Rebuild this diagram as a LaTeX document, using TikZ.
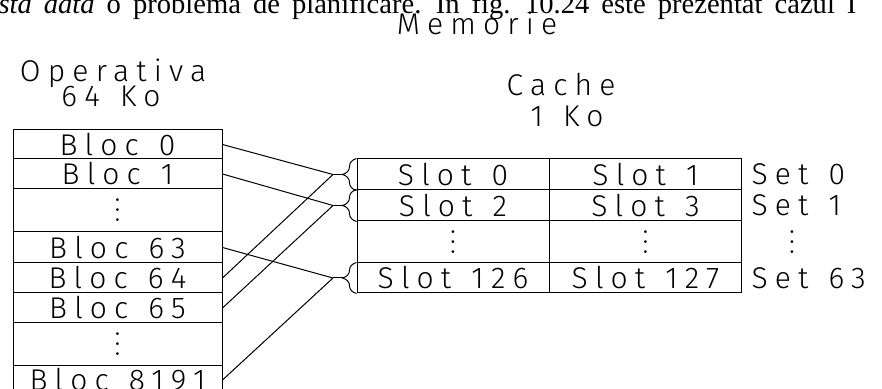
\documentclass[tikz,border=0pt]{standalone}
\usepackage{fontspec}
\usepackage{amsmath}
\usepackage{tikz}
\usetikzlibrary{decorations.pathreplacing}

\newfontfamily\cadfont{Fira Sans Light}[LetterSpace=24, WordSpace=1.3]
\newfontfamily\pagefont{Liberation Serif}
\newcommand\pagetextfont{\pagefont\fontsize{14.3}{17}\selectfont\spaceskip 6pt\relax}
\newcommand\tridots{\vbox{\baselineskip5pt\lineskiplimit0pt\hbox{$.$}\hbox{$.$}\hbox{$.$}}}

\tikzset{
    cadtext/.style={font=\cadfont\fontsize{15}{17}\selectfont},
    bloc/.style={draw, cadtext, minimum width=104.5pt, minimum height=#1, inner sep=0pt},
    bloc/.default=15pt,
    slot/.style={draw, cadtext, minimum width=96pt, minimum height=#1, inner sep=0pt},
    slot/.default=15.5pt,
    lbl/.style={cadtext, inner sep=0pt},
    cbrace/.style={decorate, decoration={brace, amplitude=7pt}}
}

\begin{document}
\begin{tikzpicture}[x=0.5pt, y=-0.5pt, line width=0.5pt]
    \useasboundingbox (0,0) rectangle (882,389);
    \clip (0,0) rectangle (882,389);

    % Page text cut off above the figure (justified line)
    \node[anchor=base west, inner sep=0pt, font=\pagetextfont] (pagetext) at (-2,14)
        {\textit{sta dată} o problemă de planificare. În fig. 10.24 este prezentat cazul I};

    % Titles
    \node[lbl, anchor=base] (mem) at (477,35) {Memorie};
    \node[lbl, anchor=base] (op) at (113,82) {Operativa};
    \node[lbl, anchor=base] (opsize) at (111,107) {64 Ko};
    \node[lbl, anchor=base] (cache) at (561,96) {Cache};
    \node[lbl, anchor=base] (cachesize) at (567,127) {1 Ko};

    % Main memory blocks
    \node[bloc=14.5pt] (b0) at (117.5,144.5) {Bloc 0};
    \node[bloc] (b1) at (117.5,174) {Bloc 1};
    \node[bloc=21.5pt] (bd1) at (117.5,210.5) {\tridots};
    \node[bloc=15.5pt] (b63) at (117.5,247.5) {Bloc 63};
    \node[bloc] (b64) at (117.5,278) {Bloc 64};
    \node[bloc] (b65) at (117.5,308) {Bloc 65};
    \node[bloc=21pt] (bd2) at (117.5,344) {\tridots};
    \node[bloc] (b8191) at (117.5,380) {Bloc 8191};

    % Cache slots, two per set
    \node[slot] (s0) at (453,174.5) {Slot 0};
    \node[slot] (s1) at (645.5,174.5) {Slot 1};
    \node[slot] (s2) at (453,205.5) {Slot 2};
    \node[slot] (s3) at (645.5,205.5) {Slot 3};
    \node[slot=21pt] (sd1) at (453,242) {\tridots};
    \node[slot=21pt] (sd2) at (645.5,242) {\tridots};
    \node[slot=15pt] (s126) at (453,278) {Slot 126};
    \node[slot=15pt] (s127) at (645.5,278) {Slot 127};

    % Set labels
    \node[lbl, anchor=west] (set0) at (751,174.5) {Set 0};
    \node[lbl, anchor=west] (set1) at (751,205.5) {Set 1};
    \node[lbl] (setd) at (792,242) {\tridots};
    \node[lbl, anchor=west] (set63) at (751,278) {Set 63};

    % Braces in front of each set
    \draw[cbrace] (s0.south west) -- (s0.north west);
    \draw[cbrace] (s2.south west) -- (s2.north west);
    \draw[cbrace] (s126.south west) -- (s126.north west);

    \coordinate (k0) at (343,174.5);
    \coordinate (k1) at (343,205.5);
    \coordinate (k63) at (343,278);
    \coordinate (t0) at (333,174.5);
    \coordinate (t1) at (333,205.5);
    \coordinate (t63) at (333,278);
    \draw (k0) -- (t0);
    \draw (k1) -- (t1);
    \draw (k63) -- (t63);

    % Mapping of blocks to sets
    \draw (b0.east) -- (t0);
    \draw (b1.east) -- (t1);
    \draw (b63.east) -- (t63);
    \draw (b64.east) -- (t0);
    \draw (b65.east) -- (t1);
    \draw (b8191.east) -- (t63);

\end{tikzpicture}
\end{document}
